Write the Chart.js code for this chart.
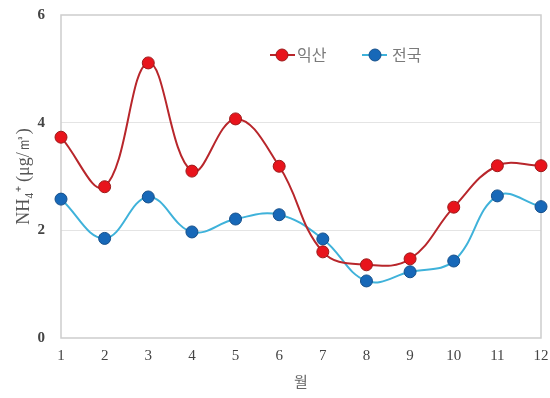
<!DOCTYPE html>
<html>
<head>
<meta charset="utf-8">
<script src="https://cdn.jsdelivr.net/npm/chart.js@4.4.0/dist/chart.umd.min.js"></script>
<style>
html,body{margin:0;padding:0;background:#fff;}
#wrap{width:550px;height:398px;}
</style>
</head>
<body>
<div id="wrap"><canvas id="c" width="550" height="398"></canvas></div>
<script>
const months = ['1','2','3','4','5','6','7','8','9','10','11','12'];
const iksan = [3.73, 2.81, 5.11, 3.10, 4.07, 3.19, 1.60, 1.36, 1.47, 2.43, 3.20, 3.20];
const national = [2.58, 1.85, 2.62, 1.97, 2.21, 2.29, 1.84, 1.06, 1.23, 1.43, 2.64, 2.44];
const seriesNames = ['익산', '전국'];
const yTicks = [0, 2, 4, 6];

const redLine = '#b8262b', redFill = '#e8141c', redBorder = '#9c1a1a';
const blueLine = '#3fb2da', blueFill = '#1768b8', blueBorder = '#154f8a';

const framePlugin = {
  id: 'frame',
  beforeDatasetsDraw(chart) {
    const a = chart.chartArea, ctx = chart.ctx;
    ctx.save();
    ctx.strokeStyle = '#cdcdcd';
    ctx.lineWidth = 1.5;
    ctx.strokeRect(a.left, a.top, a.right - a.left, a.bottom - a.top);
    ctx.restore();
  }
};

const legendPlugin = {
  id: 'customLegend',
  afterDatasetsDraw(chart) {
    const ctx = chart.ctx;
    const items = [
      {x1: 270, x2: 295, mx: 282, tx: 297, line: redLine, fill: redFill, border: redBorder, text: seriesNames[0]},
      {x1: 362, x2: 387, mx: 375, tx: 392, line: blueLine, fill: blueFill, border: blueBorder, text: seriesNames[1]}
    ];
    const y = 55;
    ctx.save();
    items.forEach(it => {
      ctx.strokeStyle = it.line; ctx.lineWidth = 2;
      ctx.beginPath(); ctx.moveTo(it.x1, y); ctx.lineTo(it.x2, y); ctx.stroke();
      ctx.beginPath(); ctx.arc(it.mx, y, 6, 0, Math.PI * 2);
      ctx.fillStyle = it.fill; ctx.fill();
      ctx.strokeStyle = it.border; ctx.lineWidth = 1; ctx.stroke();
      ctx.fillStyle = '#7a7a7a';
      ctx.font = '16px "Noto Sans CJK KR"';
      ctx.textBaseline = 'middle';
      ctx.textAlign = 'left';
      ctx.fillText(it.text, it.tx, y);
    });
    ctx.restore();
  }
};

new Chart(document.getElementById('c'), {
  type: 'line',
  data: {
    labels: months,
    datasets: [
      {
        label: seriesNames[0], data: iksan,
        borderColor: redLine, borderWidth: 2, tension: 0.4,
        pointRadius: 6, pointBackgroundColor: redFill, pointBorderColor: redBorder, pointBorderWidth: 1,
        fill: false, clip: false
      },
      {
        label: seriesNames[1], data: national,
        borderColor: blueLine, borderWidth: 2, tension: 0.4,
        pointRadius: 6, pointBackgroundColor: blueFill, pointBorderColor: blueBorder, pointBorderWidth: 1,
        fill: false, clip: false
      }
    ]
  },
  options: {
    responsive: false,
    animation: false,
    devicePixelRatio: 1,
    layout: { autoPadding: false, padding: { top: 15, right: 9, left: 0, bottom: 8 } },
    plugins: { legend: { display: false }, tooltip: { enabled: false } },
    scales: {
      x: {
        type: 'category',
        offset: false,
        grid: { display: false, drawTicks: false },
        border: { display: false },
        ticks: { color: '#444', font: { family: 'Liberation Serif', size: 15 }, padding: 9, maxRotation: 0, autoSkip: false },
        title: { display: true, text: '월', color: '#666', font: { family: 'Noto Sans CJK KR', size: 15 }, padding: { top: 2, bottom: 0 } },
        afterFit(s) { s.height = 52; s.paddingLeft = 0; s.paddingRight = 0; }
      },
      y: {
        min: 0, max: 6,
        afterBuildTicks(s) { s.ticks = yTicks.map(v => ({ value: v })); },
        grid: {
          drawTicks: false,
          color: ctx => (ctx.tick && (ctx.tick.value === 0 || ctx.tick.value === 6)) ? 'rgba(0,0,0,0)' : '#e4e4e4',
          lineWidth: 1
        },
        border: { display: false },
        ticks: { color: '#444', font: { family: 'Liberation Serif', size: 15, weight: 'bold' }, padding: 16 },
        title: { display: true, text: 'NH₄⁺ (μg/㎥)', color: '#555', font: { family: 'Liberation Serif', size: 18 }, padding: { top: 13, bottom: 0 } },
        afterFit(s) { s.width = 61; s.paddingTop = 0; s.paddingBottom = 0; }
      }
    }
  },
  plugins: [framePlugin, legendPlugin]
});
</script>
</body>
</html>
